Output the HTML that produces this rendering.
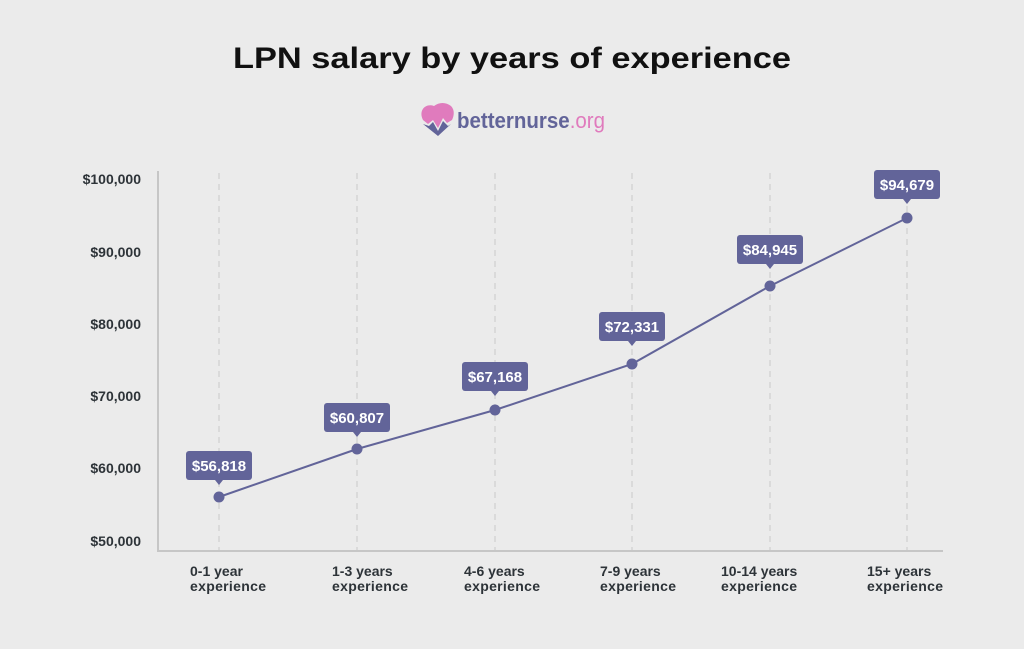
<!DOCTYPE html>
<html><head><meta charset="utf-8"><style>
html,body{margin:0;padding:0;background:#ebebeb;}
svg{display:block;font-family:"Liberation Sans",sans-serif;}
</style></head><body>
<svg width="1024" height="649" viewBox="0 0 1024 649">
<rect width="1024" height="649" fill="#ebebeb"/>
<text x="512" y="68" text-anchor="middle" font-size="30" font-weight="bold" fill="#111" textLength="558" lengthAdjust="spacingAndGlyphs">LPN salary by years of experience</text>
<!-- logo -->
<g>
<path d="M423 120 C418 110,426 103,434 106 C439 102,446 102,451 106 C455 110,454 116,452 120 L447 123 L443 118 L438 128 L433 120 L428 124 Z" fill="#e07bbd"/>
<path d="M423 124 L429 126 L433 122 L438 131 L443 121 L448 126 L451 124 L438 136 Z" fill="#626499"/>
<text x="457" y="128" font-size="22" font-weight="bold" fill="#626499" textLength="148" lengthAdjust="spacingAndGlyphs">betternurse<tspan fill="#e07bbd" font-weight="normal">.org</tspan></text>
</g>
<!-- grid -->
<g stroke="#cfcfcf" stroke-width="1.2" stroke-dasharray="6,5">
<line x1="219" y1="173" x2="219" y2="550"/>
<line x1="357" y1="173" x2="357" y2="550"/>
<line x1="495" y1="173" x2="495" y2="550"/>
<line x1="632" y1="173" x2="632" y2="550"/>
<line x1="770" y1="173" x2="770" y2="550"/>
<line x1="907" y1="173" x2="907" y2="550"/>
</g>
<path d="M158 171 V551 H943" fill="none" stroke="#c6c6c6" stroke-width="2"/>
<g font-size="14" font-weight="bold" fill="#2d3338" text-anchor="end">
<text x="141" y="184">$100,000</text>
<text x="141" y="257">$90,000</text>
<text x="141" y="329">$80,000</text>
<text x="141" y="401">$70,000</text>
<text x="141" y="473">$60,000</text>
<text x="141" y="546">$50,000</text>
</g>
<g font-size="14" font-weight="bold" fill="#2d3338">
<text x="190" y="576">0-1 year</text><text x="190" y="591" textLength="76">experience</text>
<text x="332" y="576">1-3 years</text><text x="332" y="591" textLength="76">experience</text>
<text x="464" y="576">4-6 years</text><text x="464" y="591" textLength="76">experience</text>
<text x="600" y="576">7-9 years</text><text x="600" y="591" textLength="76">experience</text>
<text x="721" y="576">10-14 years</text><text x="721" y="591" textLength="76">experience</text>
<text x="867" y="576">15+ years</text><text x="867" y="591" textLength="76">experience</text>
</g>
<polyline points="219,497 357,449 495,410 632,364 770,286 907,218" fill="none" stroke="#626499" stroke-width="2"/>
<g fill="#626499">
<circle cx="219" cy="497" r="5.5"/><circle cx="357" cy="449" r="5.5"/><circle cx="495" cy="410" r="5.5"/>
<circle cx="632" cy="364" r="5.5"/><circle cx="770" cy="286" r="5.5"/><circle cx="907" cy="218" r="5.5"/>
</g>
<g fill="#626499">
<rect x="186" y="451" width="66" height="29" rx="3"/><path d="M215 480 L219 485 L223 480Z"/>
<rect x="324" y="403" width="66" height="29" rx="3"/><path d="M353 432 L357 437 L361 432Z"/>
<rect x="462" y="362" width="66" height="29" rx="3"/><path d="M491 391 L495 396 L499 391Z"/>
<rect x="599" y="312" width="66" height="29" rx="3"/><path d="M628 341 L632 346 L636 341Z"/>
<rect x="737" y="235" width="66" height="29" rx="3"/><path d="M766 264 L770 269 L774 264Z"/>
<rect x="874" y="170" width="66" height="29" rx="3"/><path d="M903 199 L907 204 L911 199Z"/>
</g>
<g font-size="15" font-weight="bold" fill="#fff" text-anchor="middle">
<text x="219" y="471">$56,818</text>
<text x="357" y="423">$60,807</text>
<text x="495" y="382">$67,168</text>
<text x="632" y="332">$72,331</text>
<text x="770" y="255">$84,945</text>
<text x="907" y="190">$94,679</text>
</g>
</svg>
</body></html>
